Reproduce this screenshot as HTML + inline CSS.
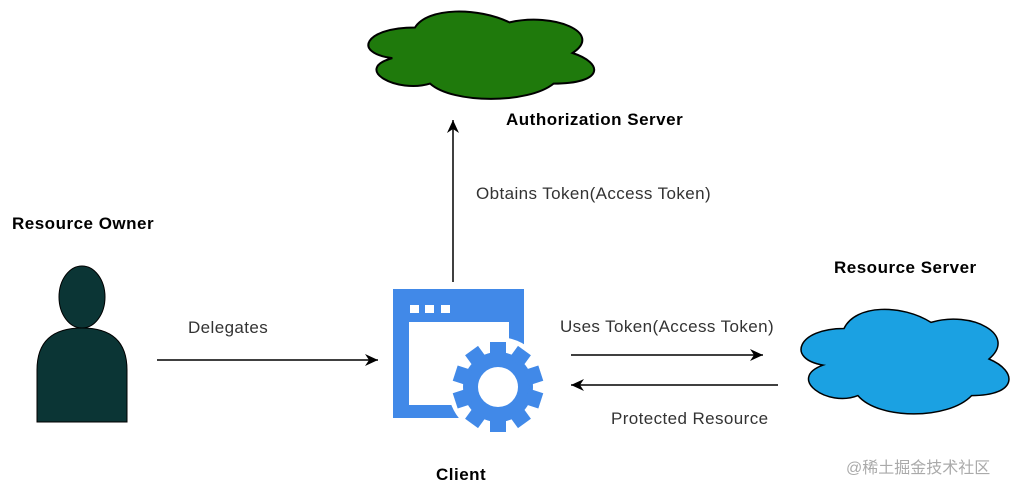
<!DOCTYPE html>
<html><head><style>
body{margin:0;width:1024px;height:490px;background:#fff;overflow:hidden;position:relative;font-family:"Liberation Sans",Arial,sans-serif}
.t{position:absolute;font-size:17px;letter-spacing:0.4px;color:#333;white-space:nowrap}
.b{font-weight:bold;color:#000;letter-spacing:0.5px}
</style></head><body>
<svg width="1024" height="490" style="position:absolute;left:0;top:0">
<defs><marker id="a" markerWidth="14" markerHeight="12" refX="13" refY="6" orient="auto" markerUnits="userSpaceOnUse"><path d="M0,0 L13,6 L0,12 L4,6 Z" fill="#000"/></marker></defs>
<svg x="352" y="2" width="252" height="102" viewBox="0 0 1 1" preserveAspectRatio="none">
<path d="M0.25 0.25 C0.05 0.25 0 0.5 0.16 0.55 C0 0.66 0.18 0.9 0.31 0.8 C0.4 1 0.7 1 0.8 0.8 C1 0.8 1 0.6 0.875 0.5 C1 0.3 0.8 0.1 0.625 0.2 C0.5 0.05 0.3 0.05 0.25 0.25 Z" fill="#1f7a0c" stroke="#000" stroke-width="2" vector-effect="non-scaling-stroke"/></svg>
<svg x="786" y="298" width="232" height="122" viewBox="0 0 1 1" preserveAspectRatio="none">
<path d="M0.25 0.25 C0.05 0.25 0 0.5 0.16 0.55 C0 0.66 0.18 0.9 0.31 0.8 C0.4 1 0.7 1 0.8 0.8 C1 0.8 1 0.6 0.875 0.5 C1 0.3 0.8 0.1 0.625 0.2 C0.5 0.05 0.3 0.05 0.25 0.25 Z" fill="#1ba1e2" stroke="#000" stroke-width="1.5" vector-effect="non-scaling-stroke"/></svg>
<path d="M37 422 L37 370 Q37 328 82 328 Q127 328 127 370 L127 422 Z" fill="#0b3535" stroke="#000"/>
<ellipse cx="82" cy="297" rx="23" ry="31" fill="#0b3535" stroke="#000"/>
<rect x="393" y="289" width="131" height="129" fill="#4189e8"/>
<rect x="409" y="322" width="100" height="83" fill="#fff"/>
<rect x="410" y="305" width="9" height="8" fill="#fff"/><rect x="425" y="305" width="9" height="8" fill="#fff"/><rect x="441" y="305" width="9" height="8" fill="#fff"/>
<circle cx="498" cy="387" r="50" fill="#fff"/>
<g transform="translate(498,387)" fill="#4189e8">
<circle r="35"/>
<g id="tt"><rect x="-8" y="-45" width="16" height="15"/></g>
<use href="#tt" transform="rotate(36)"/><use href="#tt" transform="rotate(72)"/><use href="#tt" transform="rotate(108)"/><use href="#tt" transform="rotate(144)"/><use href="#tt" transform="rotate(180)"/><use href="#tt" transform="rotate(216)"/><use href="#tt" transform="rotate(252)"/><use href="#tt" transform="rotate(288)"/><use href="#tt" transform="rotate(324)"/>
<circle r="20" fill="#fff"/>
</g>
<g stroke="#000" stroke-width="1.5" fill="none">
<line x1="157" y1="360" x2="378" y2="360" marker-end="url(#a)"/>
<line x1="453" y1="282" x2="453" y2="120" marker-end="url(#a)"/>
<line x1="571" y1="355" x2="763" y2="355" marker-end="url(#a)"/>
<line x1="778" y1="385" x2="571" y2="385" marker-end="url(#a)"/>
</g>
</svg>
<div class="t b" style="left:506px;top:110px">Authorization Server</div>
<div class="t" style="left:476px;top:184px">Obtains Token(Access Token)</div>
<div class="t b" style="left:12px;top:214px">Resource Owner</div>
<div class="t b" style="left:834px;top:258px">Resource Server</div>
<div class="t" style="left:188px;top:318px">Delegates</div>
<div class="t" style="left:560px;top:317px">Uses Token(Access Token)</div>
<div class="t" style="left:611px;top:409px">Protected Resource</div>
<div class="t b" style="left:436px;top:465px">Client</div>
<div class="t" style="left:846px;top:454px;color:#aaa;font-size:16px;letter-spacing:0;font-family:'Liberation Sans','Noto Sans CJK SC',sans-serif">@稀土掘金技术社区</div>
</body></html>
